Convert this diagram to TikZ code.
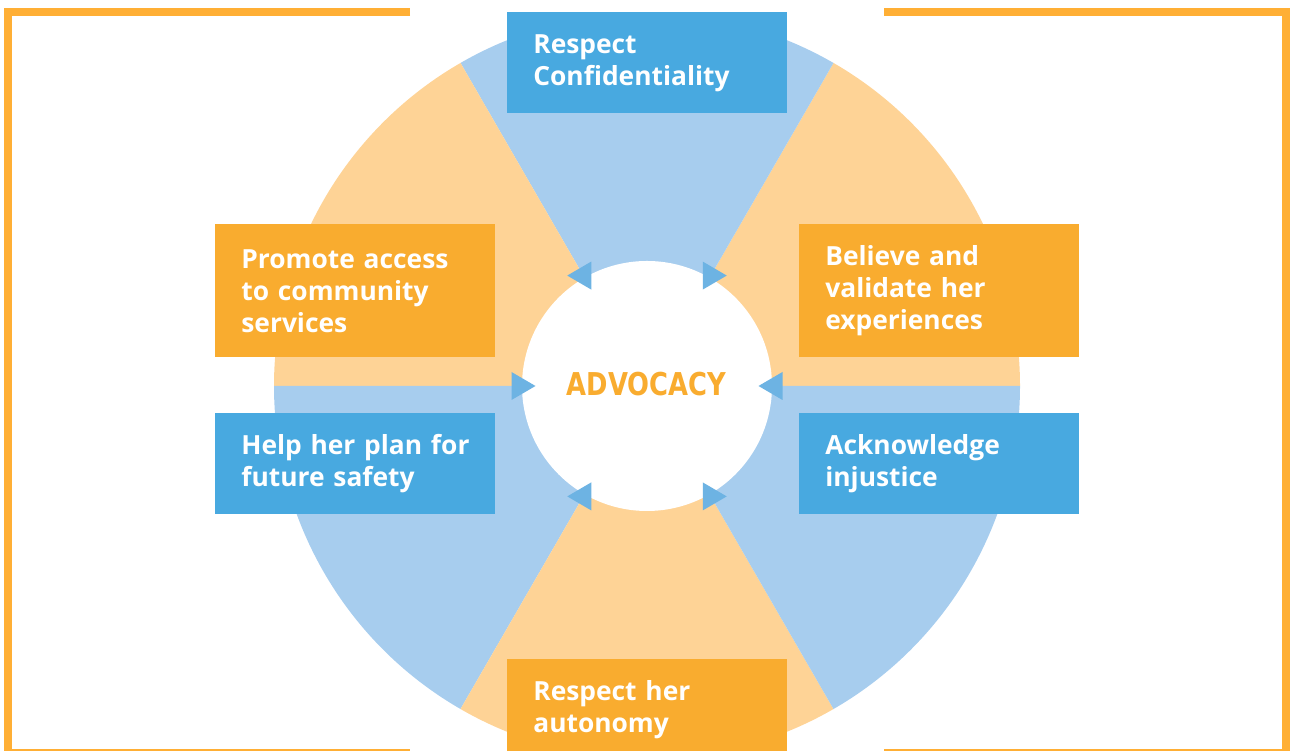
\documentclass[tikz,border=0pt]{standalone}
\usepackage{fontspec}
\setmainfont{Open Sans}
\newfontfamily\hubfont{DejaVu Sans}
\usetikzlibrary{calc}

\definecolor{frameOrange}{HTML}{FFAF35}
\definecolor{sectorOrange}{HTML}{FED396}
\definecolor{sectorBlue}{HTML}{A7CDEE}
\definecolor{boxOrange}{HTML}{F9AC2F}
\definecolor{boxBlue}{HTML}{48A9E0}
\definecolor{tipBlue}{HTML}{6DB3E3}

\newcommand{\boxtext}{\bfseries\fontsize{15}{18.2}\selectfont}

\begin{document}
\begin{tikzpicture}[
  box/.style={anchor=north west, minimum width=5.6cm, text width=4.56cm,
    inner xsep=0.52cm, inner ysep=0pt, align=left, text=white, font=\boxtext},
  frameline/.style={frameOrange, line width=0.16cm, miter limit=10}]
\useasboundingbox (0,0) rectangle (25.8,15.02);
\clip (0,0) rectangle (25.8,15.02);
\coordinate (c) at (12.94,7.30);

% wheel: six sectors of 60 degrees
\foreach \a/\col in {0/sectorOrange,60/sectorBlue,120/sectorOrange,180/sectorBlue,240/sectorOrange,300/sectorBlue}
  \fill[\col] (c) -- ++(\a:7.46) arc[start angle=\a, end angle=\a+60, radius=7.46] -- cycle;
\fill[white] (c) circle (2.5);

% small triangles round the hub
\foreach \a/\dir in {0/-1,60/1,120/-1,180/1,240/-1,300/1}{
  \begin{scope}[shift={($(c)+(\a:2.55)$)}]
    \fill[tipBlue] ({0.32*(\dir)},0) -- ({-0.16*(\dir)},0.28) -- ({-0.16*(\dir)},-0.28) -- cycle;
  \end{scope}
}

\node (hub) at (12.93,7.33) {\scalebox{0.82}[1]{\hubfont\bfseries\fontsize{17.9}{20}\selectfont\color{boxOrange}ADVOCACY}};

% boxes
\node[box, fill=boxBlue, minimum height=2.02cm] (conf) at (10.14,14.78) {Respect\\Confidentiality};
\node[box, fill=boxOrange, minimum height=2.66cm] (believe) at (15.98,10.54) {Believe and\\validate her\\experiences};
\node[box, fill=boxBlue, minimum height=2.02cm] (ack) at (15.98,6.76) {Acknowledge\\injustice};
\node[box, fill=boxOrange, minimum height=2.02cm] (auto) at (10.14,1.84) {Respect her\\autonomy};
\node[box, fill=boxBlue, minimum height=2.02cm] (plan) at (4.30,6.76) {\mbox{Help her plan for}\\future safety};
\node[box, fill=boxOrange, minimum height=2.66cm] (promote) at (4.30,10.54) {Promote access\\to community\\services};

% open frame, left and right halves
\draw[frameline] (8.2,14.78) -- (0.16,14.78) -- (0.16,-0.05) -- (8.2,-0.05);
\draw[frameline] (17.68,14.78) -- (25.72,14.78) -- (25.72,-0.05) -- (17.68,-0.05);
\end{tikzpicture}
\end{document}
